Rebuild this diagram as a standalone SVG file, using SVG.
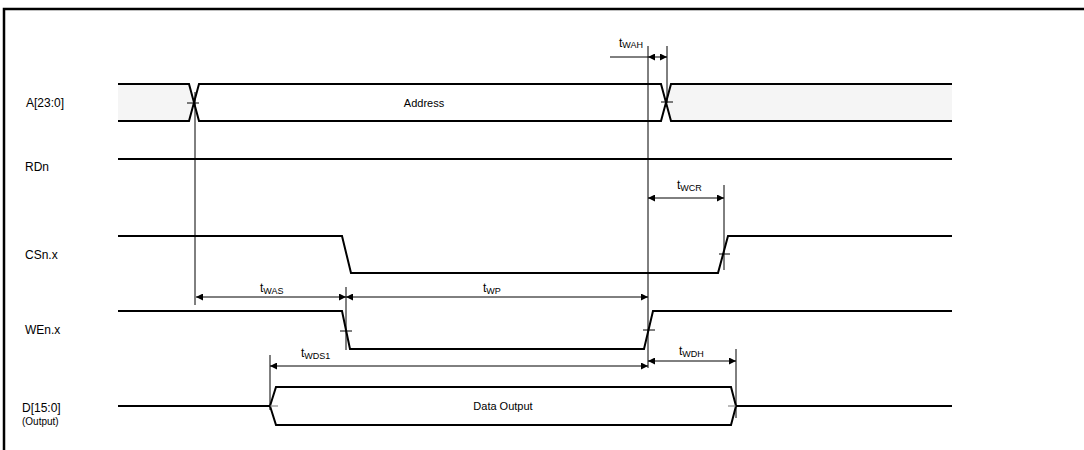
<svg xmlns="http://www.w3.org/2000/svg" width="1084" height="450" viewBox="0 0 1084 450">
<defs>
<style>
.sig{fill:none;stroke:#000;stroke-width:2;stroke-linejoin:miter}
.thin{fill:none;stroke:#000;stroke-width:1}
.tick{fill:none;stroke:#000;stroke-width:1}
.gtick{fill:none;stroke:#777;stroke-width:1}
.dim{fill:none;stroke:#000;stroke-width:1;marker-start:url(#arrS);marker-end:url(#arrE)}
.lbl{font-family:"Liberation Sans",Arial,sans-serif;font-size:12px;fill:#000}
.small{font-family:"Liberation Sans",Arial,sans-serif;font-size:10px;fill:#000}
.t{font-family:"Liberation Sans",Arial,sans-serif;font-size:12px;fill:#000}
.sub{font-size:9px}
.fillg{fill:#f5f5f5;stroke:none}
</style>
<marker id="arrE" viewBox="0 0 10 10" refX="10" refY="5" markerWidth="9" markerHeight="7" markerUnits="userSpaceOnUse" orient="auto"><path d="M0,0 L10,5 L0,10 z" fill="#000"/></marker>
<marker id="arrS" viewBox="0 0 10 10" refX="0" refY="5" markerWidth="9" markerHeight="7" markerUnits="userSpaceOnUse" orient="auto"><path d="M10,0 L0,5 L10,10 z" fill="#000"/></marker>
</defs>
<rect x="0" y="0" width="1084" height="450" fill="#fff"/>
<g id="frame">
<path d="M4,450 L4,9 L1084,9" fill="none" stroke="#000" stroke-width="2.5"/>
</g>
<g id="labels">
<text class="lbl" x="26" y="107">A[23:0]</text>
<text class="lbl" x="25" y="171">RDn</text>
<text class="lbl" x="25" y="259">CSn.x</text>
<text class="lbl" x="25" y="334">WEn.x</text>
<text class="lbl" x="22" y="412">D[15:0]</text>
<text class="small" x="22" y="425">(Output)</text>
</g>
<g id="A">
<path class="fillg" d="M118,84 L189,84 L194,102.5 L189,121 L118,121 z"/>
<path class="fillg" d="M952,84 L671,84 L666.5,102.5 L671,121 L952,121 z"/>
<path class="sig" d="M118,84 L189,84 L199,121 L661,121 L671,84 L952,84"/>
<path class="sig" d="M118,121 L189,121 L199,84 L661,84 L671,121 L952,121"/>
<text class="lbl" x="424" y="107" text-anchor="middle" style="font-size:11px">Address</text>
</g>
<g id="RDn">
<path class="sig" d="M118,159 L952,159"/>
</g>
<g id="CSn">
<path class="sig" d="M118,236 L342,236 L351,273 L718,273 L728,236 L952,236"/>
</g>
<g id="WEn">
<path class="sig" d="M118,311 L342,311 L350,349 L644,349 L653,311 L952,311"/>
</g>
<g id="D">
<path class="sig" d="M118,406 L270,406 L276,387 L731,387 L736,406 L731,425 L276,425 L270,406"/>
<path class="sig" d="M736,406 L952,406"/>
<text class="lbl" x="503" y="410" text-anchor="middle" style="font-size:11px">Data Output</text>
</g>
<g id="connectors">
<path class="thin" d="M195,92 L195,305"/>
<path class="thin" d="M346,287 L346,350"/>
<path class="thin" d="M648,46 L648,368"/>
<path class="thin" d="M667,46 L667,103"/>
<path class="thin" d="M724,185 L724,270"/>
<path class="thin" d="M270,355 L270,410"/>
<path class="thin" d="M736,349 L736,418"/>
<path class="tick" d="M187,103 L199,103"/>
<path class="tick" d="M661,102 L673,102"/>
<path class="tick" d="M719,254 L730,254"/>
<path class="tick" d="M340,331 L352,331"/>
<path class="tick" d="M643,330 L655,330"/>
<path class="gtick" d="M728,406 L736,406"/>
<path class="gtick" d="M270,406 L278,406"/>
<path class="thin" d="M610,57 L648,57"/>
<path class="dim" d="M648,57 L667,57"/>
<path class="dim" d="M648,198 L724,198"/>
<path class="dim" d="M196,297 L346,297"/>
<path class="dim" d="M346,297 L648,297"/>
<path class="dim" d="M270,366 L648,366"/>
<path class="dim" d="M648,361 L736,361"/>
<text class="t" x="619" y="47">t<tspan class="sub" dy="1">WAH</tspan></text>
<text class="t" x="677" y="189">t<tspan class="sub" dy="1.5">WCR</tspan></text>
<text class="t" x="260" y="292">t<tspan class="sub" dy="1.5">WAS</tspan></text>
<text class="t" x="483" y="292">t<tspan class="sub" dy="1.5">WP</tspan></text>
<text class="t" x="301" y="357">t<tspan class="sub" dy="1.5">WDS1</tspan></text>
<text class="t" x="679" y="355">t<tspan class="sub" dy="1.5">WDH</tspan></text>
</g>
</svg>
